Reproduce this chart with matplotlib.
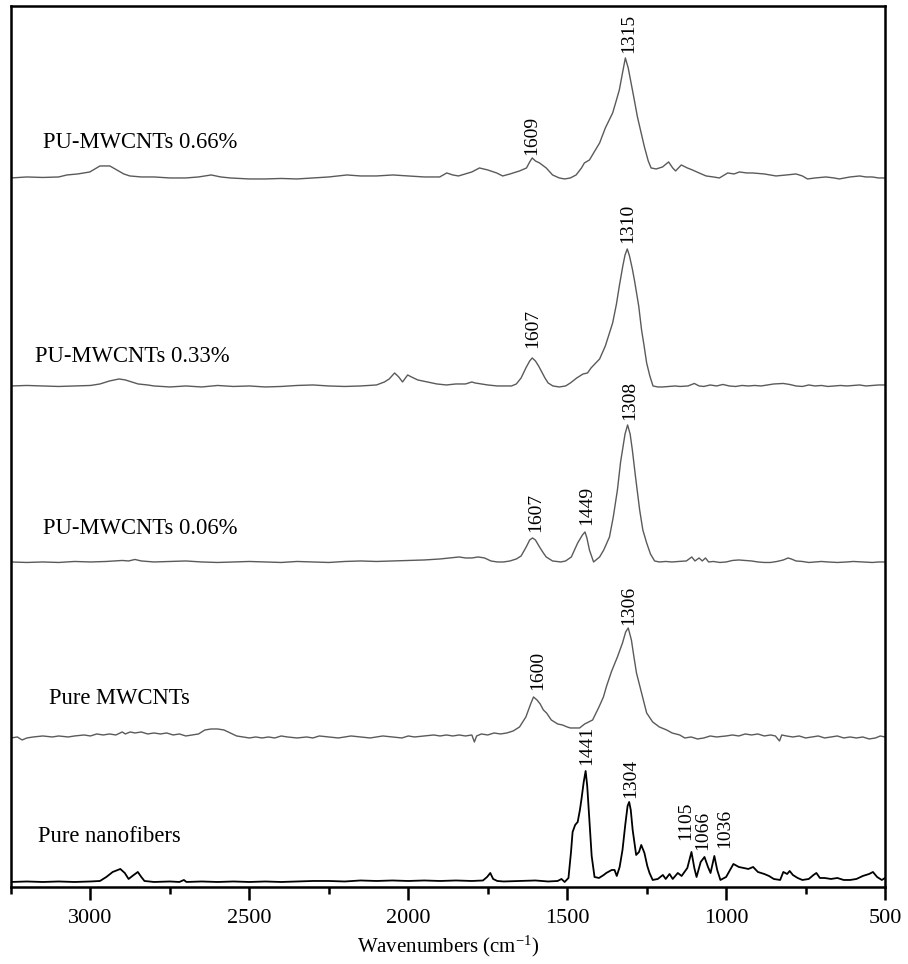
import numpy as np
import matplotlib
matplotlib.use("Agg")
import matplotlib.pyplot as plt
from matplotlib.ticker import MultipleLocator

plt.rcParams['font.family'] = ['Liberation Serif', 'DejaVu Serif']
plt.rcParams['mathtext.fontset'] = 'custom'
plt.rcParams['mathtext.rm'] = 'Liberation Serif'
plt.rcParams['mathtext.it'] = 'Liberation Serif:italic'

# Raman spectra: (wavenumber cm-1, intensity above own baseline, a.u.)
pure_nanofibers = np.array([
    (3250, 0), (3200, 0.5), (3150, 0), (3100, 0.5), (3050, 0), (3000, 0.5), (2970, 1),
    (2950, 5), (2930, 10), (2906, 13), (2892, 9), (2880, 3), (2868, 6), (2851, 10),
    (2840, 5), (2830, 1), (2800, 0), (2750, 0.5), (2720, 0), (2706, 2), (2698, 0),
    (2650, 0.5), (2600, 0), (2550, 0.5), (2500, 0), (2450, 0.5), (2400, 0), (2350, 0.5),
    (2300, 1), (2250, 1), (2200, 0.5), (2150, 1.5), (2100, 1), (2050, 1.5), (2000, 1),
    (1950, 1.5), (1900, 1), (1850, 1.5), (1800, 1), (1765, 1.5), (1752, 5), (1742, 9),
    (1733, 3), (1720, 1), (1700, 0.5), (1650, 1), (1600, 1.5), (1560, 0.5), (1530, 1),
    (1518, 3), (1508, 0), (1496, 4), (1488, 30), (1483, 50), (1475, 57), (1467, 60),
    (1460, 72), (1455, 83), (1448, 100), (1442, 111), (1437, 96), (1433, 76), (1428, 50),
    (1423, 26), (1414, 5), (1400, 4), (1385, 7), (1377, 9), (1360, 12), (1351, 12),
    (1344, 6), (1335, 15), (1326, 32), (1317, 58), (1310, 76), (1305, 80), (1300, 72),
    (1294, 52), (1283, 27), (1274, 30), (1267, 37), (1257, 29), (1248, 16), (1241, 9),
    (1231, 2), (1215, 3), (1199, 7), (1190, 3), (1178, 8), (1168, 3), (1152, 9), (1140, 6),
    (1122, 14), (1109, 30), (1100, 14), (1093, 5), (1080, 20), (1068, 25), (1057, 15),
    (1049, 9), (1037, 26), (1028, 12), (1018, 2), (1000, 5), (977, 18), (960, 15),
    (945, 14), (930, 13), (915, 15), (900, 10), (880, 8), (865, 6), (850, 3), (830, 2),
    (820, 10), (808, 8), (800, 11), (790, 7), (775, 4), (760, 2), (740, 3), (725, 7),
    (716, 9), (705, 4), (690, 4), (670, 3), (650, 4), (630, 2), (610, 2), (590, 3),
    (570, 6), (550, 8), (538, 10), (525, 5), (510, 2), (500, 4),
])

pure_mwcnts = np.array([
    (3250, -1), (3230, 0), (3215, -3), (3200, -1), (3180, 0), (3150, 1), (3120, 0),
    (3100, 1), (3070, 0), (3050, 1), (3020, 2), (3000, 1), (2980, 3), (2960, 2),
    (2940, 3), (2920, 2), (2900, 5), (2890, 3), (2875, 5), (2860, 4), (2840, 5),
    (2820, 3), (2800, 4), (2780, 3), (2760, 4), (2740, 2), (2720, 3), (2700, 1),
    (2680, 2), (2660, 3), (2640, 7), (2620, 8), (2600, 8), (2580, 7), (2560, 4),
    (2540, 1), (2520, 0), (2500, -1), (2480, 0), (2460, -1), (2440, 0), (2420, -1),
    (2400, 1), (2380, 0), (2350, -1), (2320, 0), (2300, -1), (2280, 1), (2250, 0),
    (2220, -1), (2200, 0), (2180, 1), (2150, 0), (2120, -1), (2100, 0), (2080, 1),
    (2050, 0), (2020, -1), (2000, 1), (1980, 0), (1950, 1), (1920, 2), (1900, 1),
    (1880, 2), (1860, 1), (1840, 2), (1820, 1), (1800, 2), (1792, -5), (1785, 1),
    (1770, 3), (1750, 2), (1730, 4), (1710, 3), (1690, 4), (1670, 6), (1650, 10),
    (1630, 20), (1615, 33), (1606, 40), (1595, 37), (1585, 33), (1575, 27), (1565, 24),
    (1550, 17), (1530, 13), (1515, 12), (1500, 10), (1490, 9), (1475, 9), (1461, 9),
    (1445, 13), (1420, 17), (1400, 30), (1386, 40), (1376, 51), (1360, 66), (1342, 80),
    (1326, 94), (1316, 105), (1308, 109), (1298, 97), (1290, 80), (1282, 64),
    (1266, 44), (1250, 24), (1231, 15), (1210, 10), (1187, 7), (1170, 4), (1146, 2),
    (1130, -1), (1110, 0), (1090, -2), (1070, -1), (1050, 1), (1030, 0), (1000, 1),
    (980, 2), (960, 1), (940, 3), (920, 2), (900, 3), (880, 1), (860, 2), (845, 1),
    (832, -4), (825, 2), (810, 1), (790, 0), (770, 1), (750, -1), (730, 0), (710, 1),
    (690, -1), (670, 0), (650, 1), (630, -1), (610, 0), (590, -1), (570, 0), (550, -2),
    (530, -1), (515, 1), (500, 0),
])

pu_mwcnts_006 = np.array([
    (3250, 0), (3200, -0.5), (3150, 0), (3100, -0.5), (3050, 0.5), (3000, 0), (2950, 0.5),
    (2900, 1.5), (2880, 1), (2860, 2.5), (2840, 1), (2800, 0), (2750, 0.5), (2700, 1),
    (2650, 0), (2600, -0.5), (2550, 0), (2500, 0.5), (2450, 0), (2400, -0.5), (2350, 0.5),
    (2300, 0), (2250, -0.5), (2200, 0.5), (2150, 1), (2100, 0.5), (2050, 1), (2000, 1.5),
    (1950, 2), (1900, 3), (1870, 4), (1840, 5), (1820, 4), (1800, 4), (1780, 5),
    (1760, 4), (1740, 1), (1720, 0), (1700, 0), (1680, 1), (1660, 3), (1645, 6),
    (1629, 15), (1618, 22), (1609, 24), (1600, 22), (1587, 15), (1575, 9), (1566, 5),
    (1546, 1), (1520, 0), (1505, 1), (1487, 5), (1467, 19), (1452, 27), (1444, 30),
    (1438, 24), (1430, 12), (1417, 0), (1398, 5), (1385, 12), (1367, 25), (1355, 45),
    (1342, 72), (1332, 100), (1326, 112), (1318, 128), (1310, 137), (1302, 128),
    (1295, 112), (1285, 85), (1272, 52), (1262, 32), (1250, 19), (1238, 8), (1225, 1),
    (1210, 0), (1190, 0.5), (1170, 0), (1150, 0.5), (1125, 1), (1108, 5), (1098, 1),
    (1085, 4), (1075, 1), (1065, 4), (1055, 0), (1040, 0.5), (1020, -0.5), (1000, 0),
    (980, 1.5), (960, 2), (940, 1.5), (920, 1), (900, 0), (880, -0.5), (860, -0.5),
    (840, 0.5), (820, 2), (805, 4), (795, 3), (780, 1), (760, 0.5), (740, -0.5), (720, 0),
    (700, 0.5), (680, 0), (650, -0.5), (620, 0), (600, 0.5), (570, 0), (540, -0.5),
    (520, 0), (500, 0),
])

pu_mwcnts_033 = np.array([
    (3250, 0), (3200, 0.5), (3150, 0), (3100, -0.5), (3050, 0), (3000, 0.5), (2970, 2),
    (2940, 5), (2910, 7), (2890, 6), (2870, 4), (2850, 2), (2820, 1), (2800, 0),
    (2750, -1), (2700, 0), (2650, -1), (2600, 0.5), (2550, -0.5), (2500, 0), (2450, -1),
    (2400, -0.5), (2350, 0.5), (2300, 1), (2250, 0), (2200, -0.5), (2150, 0), (2100, 1),
    (2075, 4), (2060, 7), (2043, 13), (2030, 9), (2018, 4), (2002, 11), (1990, 9),
    (1970, 6), (1940, 4), (1910, 2), (1880, 1), (1850, 2), (1820, 2), (1800, 4),
    (1790, 3), (1770, 2), (1750, 1), (1720, 0), (1700, 0), (1675, 0), (1660, 2),
    (1645, 8), (1630, 18), (1618, 25), (1610, 28), (1600, 25), (1590, 20), (1580, 14),
    (1570, 8), (1560, 3), (1545, 0), (1525, -1), (1505, 0), (1490, 3), (1470, 8),
    (1450, 12), (1436, 13), (1425, 18), (1410, 23), (1398, 27), (1380, 40), (1357, 63),
    (1345, 82), (1336, 100), (1325, 120), (1318, 131), (1311, 137), (1304, 130),
    (1295, 117), (1288, 105), (1275, 80), (1266, 56), (1258, 40), (1250, 23), (1240, 10),
    (1230, 0), (1215, -1), (1200, -1), (1180, -0.5), (1160, 0), (1145, -0.5), (1120, 0),
    (1100, 2.5), (1085, 0), (1070, -0.5), (1050, 1), (1030, 0), (1010, 1.5), (990, 0),
    (970, -0.5), (950, 0.5), (930, 0), (910, 0.5), (890, 0), (870, 1), (850, 2),
    (820, 2.5), (800, 1.5), (780, 0), (760, -0.5), (740, 1), (720, 0), (700, 0.5),
    (680, -0.5), (660, 0), (640, 0.5), (620, 0), (600, 0.5), (580, 1), (560, 0),
    (540, 0.5), (520, 1), (500, 1),
])

pu_mwcnts_066 = np.array([
    (3250, 0), (3200, 1), (3150, 0.5), (3100, 1), (3074, 3), (3040, 4), (3002, 6),
    (2970, 12), (2950, 12), (2939, 12), (2917, 8), (2895, 4), (2876, 2), (2840, 1),
    (2800, 1), (2750, 0), (2700, 0), (2660, 1), (2620, 3), (2590, 1), (2560, 0),
    (2500, -1), (2450, -1), (2400, -0.5), (2351, -1), (2300, 0), (2250, 1), (2193, 3),
    (2150, 2), (2100, 2), (2048, 3), (2000, 2), (1950, 1), (1901, 1), (1879, 5),
    (1860, 3), (1842, 2), (1800, 6), (1776, 10), (1750, 8), (1722, 5), (1703, 2),
    (1680, 4), (1650, 7), (1628, 10), (1618, 16), (1610, 20), (1600, 17), (1587, 15),
    (1566, 10), (1546, 3), (1525, 0), (1508, -1), (1490, 0), (1472, 3), (1455, 10),
    (1446, 15), (1430, 18), (1415, 26), (1398, 35), (1380, 50), (1357, 65), (1345, 78),
    (1336, 88), (1326, 105), (1317, 120), (1308, 110), (1299, 95), (1290, 80),
    (1279, 61), (1268, 46), (1257, 31), (1245, 17), (1236, 10), (1220, 9), (1200, 11),
    (1181, 16), (1168, 10), (1159, 7), (1141, 13), (1122, 10), (1106, 8), (1085, 5),
    (1063, 2), (1040, 1), (1021, 0), (995, 5), (975, 4), (958, 6), (935, 5), (917, 5),
    (880, 4), (843, 2), (810, 3), (780, 4), (760, 2), (744, -1), (720, 0), (686, 1),
    (660, 0), (644, -1), (610, 1), (580, 2), (560, 1), (540, 1), (520, 0), (500, 0),
])

series_names = ["Pure nanofibers", "Pure MWCNTs", "PU-MWCNTs 0.06%",
                "PU-MWCNTs 0.33%", "PU-MWCNTs 0.66%"]
series_data = [pure_nanofibers, pure_mwcnts, pu_mwcnts_006, pu_mwcnts_033, pu_mwcnts_066]

# peak labels per spectrum (text)
peak_names = [
    ["1441", "1304", "1105", "1066", "1036"],
    ["1600", "1306"],
    ["1607", "1449", "1308"],
    ["1607", "1310"],
    ["1609", "1315"],
]

# ---- layout -------------------------------------------------------------
offsets = [5, 150, 325, 501, 709]
line_colors = ["black", "#5a5a5a", "#5a5a5a", "#5a5a5a", "#5a5a5a"]
line_widths = [1.3, 1.0, 1.0, 1.0, 1.0]
name_pos = [(3165, 50), (3130, 188), (3149, 358), (3175, 530), (3149, 744)]
peak_pos = [
    [(1438, 122), (1301, 89), (1128, 47), (1073, 37), (1005, 39)],
    [(1593, 197), (1306, 262)],
    [(1598, 355), (1439, 362), (1304, 467)],
    [(1608, 539), (1310, 644)],
    [(1611, 732), (1307, 834)],
]

fig = plt.figure(figsize=(9.08, 9.64), dpi=100)
ax = fig.add_axes([0.0121, 0.0799, 0.9626, 0.9134])

for i, spec in enumerate(series_data):
    ax.plot(spec[:, 0], spec[:, 1] + offsets[i], color=line_colors[i],
            lw=line_widths[i], solid_joinstyle='round')
    ax.text(name_pos[i][0], name_pos[i][1], series_names[i], fontsize=16.3,
            ha='left', va='center')
    for lab, (px, py) in zip(peak_names[i], peak_pos[i]):
        ax.text(px, py, lab, rotation=90, fontsize=14, ha='center', va='bottom')

ax.set_xlim(3250, 500)
ax.set_ylim(0, 880.5)
ax.xaxis.set_major_locator(MultipleLocator(500))
ax.xaxis.set_minor_locator(MultipleLocator(250))
ax.set_yticks([])
ax.tick_params(axis='x', which='major', direction='out', length=9, width=1.8,
               labelsize=16, pad=7)
ax.tick_params(axis='x', which='minor', direction='out', length=5, width=1.8)
for s in ax.spines.values():
    s.set_linewidth(1.8)
ax.set_xlabel(r"Wavenumbers (cm$^{\mathregular{-1}}$)", fontsize=15, labelpad=4)

fig.savefig("out.png", dpi=100)
